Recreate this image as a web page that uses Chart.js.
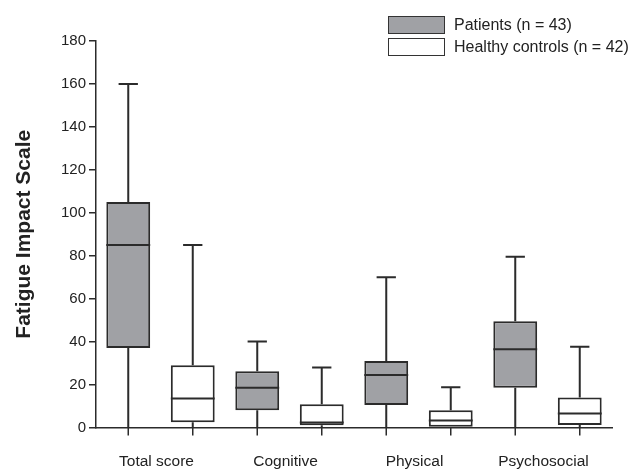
<!DOCTYPE html>
<html>
<head>
<meta charset="utf-8">
<script src="https://cdn.jsdelivr.net/npm/chart.js@4"></script>
<style>
  html, body { margin: 0; padding: 0; background: #fff; }
  #wrap { position: relative; width: 639px; height: 470px; }
  #legend { position: absolute; left: 388px; top: 14px; font: 16px "Liberation Sans", Arial, sans-serif; color: #222; }
  .item { display: flex; align-items: center; height: 22px; }
  .swatch { width: 55px; height: 16px; border: 1.5px solid #333; margin-right: 9px; box-sizing: content-box; }
</style>
</head>
<body>
<div id="wrap">
  <canvas id="boxChart" width="639" height="470"></canvas>
  <div id="legend">
    <div class="item"><span class="swatch" style="background:#a0a1a5"></span>Patients (n = 43)</div>
    <div class="item"><span class="swatch" style="background:#fff"></span>Healthy controls (n = 42)</div>
  </div>
</div>
<script>
// Fatigue Impact Scale
const categories = ["Total score", "Cognitive", "Physical", "Psychosocial"];
const yTicks = [0, 20, 40, 60, 80, 100, 120, 140, 160, 180];

// min, q1, median, q3, max per category
const patientsMin = [0, 0, 0, 0];
const patientsQ1 = [37, 8, 10.5, 18.5];
const patientsMedian = [85, 18.5, 24.5, 36.5];
const patientsQ3 = [105, 26.2, 31, 49.5];
const patientsMax = [160, 40, 70, 79.5];

const controlsMin = [0, 0, 0, 0];
const controlsQ1 = [2.5, 1, 0, 1.2];
const controlsMedian = [13.5, 2.3, 3.3, 6.5];
const controlsQ3 = [29, 10.8, 8, 14];
const controlsMax = [85, 28, 18.8, 37.6];

const lineColor = "#2b2b2b";

// whiskers, medians and the small ticks under each box
const boxExtras = {
  id: "boxExtras",
  afterDatasetsDraw(chart) {
    const ctx = chart.ctx;
    const y = chart.scales.y;
    const stats = [
      [patientsMin, patientsMedian, patientsMax],
      [controlsMin, controlsMedian, controlsMax]
    ];
    ctx.save();
    ctx.strokeStyle = lineColor;
    chart.data.datasets.forEach((ds, di) => {
      const meta = chart.getDatasetMeta(di);
      meta.data.forEach((bar, i) => {
        const x = bar.x;
        const w = bar.width;
        const [lo, hi] = ds.data[i];
        const yMin = y.getPixelForValue(stats[di][0][i]);
        const yMed = y.getPixelForValue(stats[di][1][i]);
        const yMax = y.getPixelForValue(stats[di][2][i]);
        const yLo = y.getPixelForValue(lo);
        const yHi = y.getPixelForValue(hi);
        const cap = w * 0.22;
        ctx.lineWidth = 2;
        ctx.beginPath();
        // upper whisker + cap
        ctx.moveTo(x, yHi); ctx.lineTo(x, yMax);
        ctx.moveTo(x - cap, yMax); ctx.lineTo(x + cap, yMax);
        // lower whisker
        ctx.moveTo(x, yLo); ctx.lineTo(x, yMin);
        // median
        ctx.moveTo(x - w / 2, yMed); ctx.lineTo(x + w / 2, yMed);
        ctx.stroke();
        // tick below x axis
        ctx.lineWidth = 1.5;
        ctx.beginPath();
        ctx.moveTo(x, chart.chartArea.bottom); ctx.lineTo(x, chart.chartArea.bottom + 8);
        ctx.stroke();
      });
    });
    ctx.restore();
  }
};

const ctx = document.getElementById("boxChart").getContext("2d");
new Chart(ctx, {
  type: "bar",
  data: {
    labels: categories,
    datasets: [
      {
        label: "Patients (n = 43)",
        data: patientsQ1.map((q1, i) => [q1, patientsQ3[i]]),
        backgroundColor: "#a0a1a5",
        borderColor: lineColor,
        borderWidth: 2,
        borderSkipped: false
      },
      {
        label: "Healthy controls (n = 42)",
        data: controlsQ1.map((q1, i) => [q1, controlsQ3[i]]),
        backgroundColor: "#ffffff",
        borderColor: lineColor,
        borderWidth: 2,
        borderSkipped: false
      }
    ]
  },
  options: {
    responsive: false,
    animation: false,
    events: [],
    layout: { padding: { top: 41, right: 27, left: 0, bottom: 0 } },
    datasets: { bar: { categoryPercentage: 1.0, barPercentage: 0.68 } },
    plugins: { legend: { display: false }, tooltip: { enabled: false } },
    scales: {
      x: {
        grid: { display: false, drawTicks: false },
        border: { color: lineColor, width: 1.5 },
        ticks: { color: "#222", padding: 25, labelOffset: -4, font: { family: "Liberation Sans", size: 15.5 } },
        afterFit: (s) => { s.height = 42.5; }
      },
      y: {
        min: 0,
        max: 180,
        afterBuildTicks: (s) => { s.ticks = yTicks.map(v => ({ value: v })); },
        grid: { drawOnChartArea: false, drawTicks: true, tickLength: 7, color: lineColor, lineWidth: 1.5 },
        border: { color: lineColor, width: 1.5 },
        ticks: { color: "#222", padding: 3, font: { family: "Liberation Sans", size: 15 } },
        title: {
          display: true,
          text: "Fatigue Impact Scale",
          color: "#222",
          font: { family: "Liberation Sans", size: 21, weight: "bold" },
          padding: { top: 12, bottom: 0 }
        },
        afterFit: (s) => { s.width = 96; }
      }
    }
  },
  plugins: [boxExtras]
});
</script>
</body>
</html>
